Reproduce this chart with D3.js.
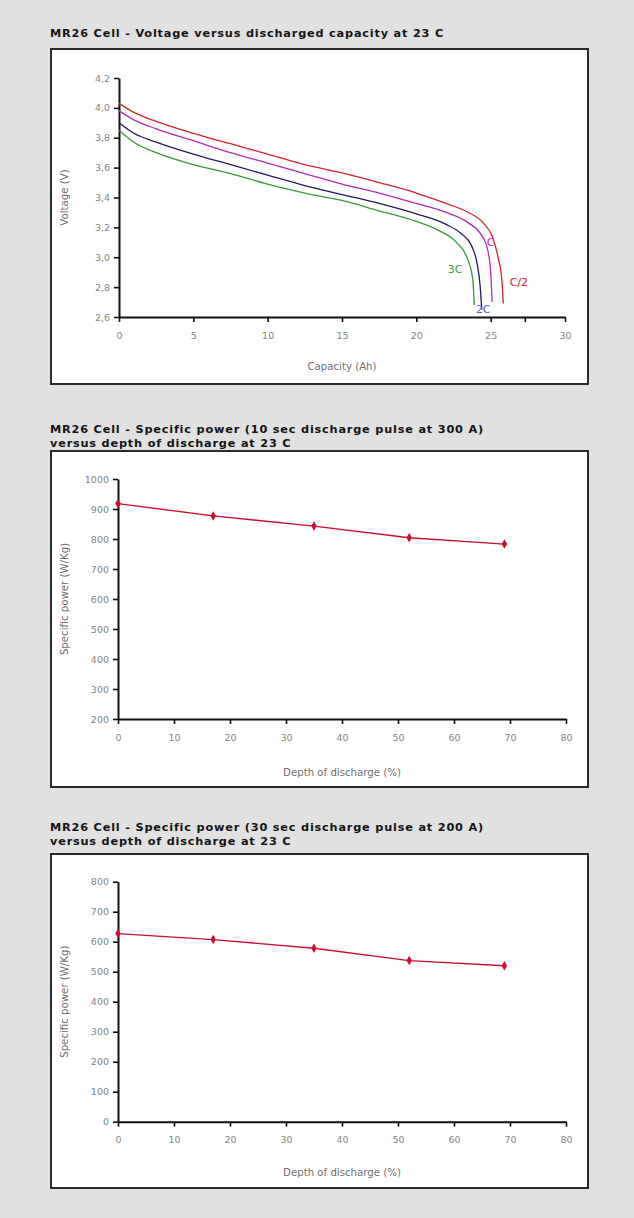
<!DOCTYPE html>
<html>
<head>
<meta charset="utf-8">
<script src="https://cdn.jsdelivr.net/npm/d3@7"></script>
<style>
  html, body { margin: 0; padding: 0; background: #e1e1e1; }
  svg { display: block; }
  .tick text { fill: #858585; font-family: "DejaVu Sans", sans-serif; font-size: 9.5px; }
  .axis-title { fill: #707070; font-family: "DejaVu Sans", sans-serif; font-size: 10.2px; }
  .panel-title { fill: #141414; font-family: "DejaVu Sans", sans-serif; font-size: 11.3px; font-weight: bold; letter-spacing: 0.8px; }
  .rate-label { font-family: "DejaVu Sans", sans-serif; font-size: 11px; }
</style>
</head>
<body>
<svg id="chart" width="634" height="1218"></svg>
<script>
// --- chart 1: voltage vs discharged capacity ---
const capacityTicks = [0, 5, 10, 15, 20, 25, 27.3, 30];
const voltageTicks = [2.6, 2.8, 3.0, 3.2, 3.4, 3.6, 3.8, 4.0, 4.2];

// [capacity Ah, voltage V]
const curveHalfC = [[0, 4.03], [1, 3.97], [2.5, 3.91], [5, 3.83], [7.5, 3.76], [10, 3.69], [12.5, 3.62], [15, 3.565], [17.5, 3.5], [20, 3.43], [22, 3.36], [23.5, 3.3], [24.5, 3.23], [25.1, 3.14], [25.5, 3.0], [25.75, 2.85], [25.85, 2.69]];
const curve1C = [[0, 3.98], [1, 3.92], [2.5, 3.86], [5, 3.78], [7.5, 3.7], [10, 3.63], [12.5, 3.56], [15, 3.49], [17.5, 3.43], [20, 3.36], [22, 3.3], [23.5, 3.23], [24.3, 3.16], [24.8, 3.05], [25.0, 2.9], [25.1, 2.7]];
const curve2C = [[0, 3.9], [1, 3.83], [2.5, 3.77], [5, 3.69], [7.5, 3.62], [10, 3.55], [12.5, 3.48], [15, 3.42], [17.5, 3.36], [20, 3.29], [22, 3.22], [23, 3.16], [23.7, 3.08], [24.1, 2.95], [24.3, 2.8], [24.4, 2.65]];
const curve3C = [[0, 3.85], [1, 3.77], [2.5, 3.7], [5, 3.62], [7.5, 3.56], [10, 3.49], [12.5, 3.43], [15, 3.38], [17.5, 3.31], [20, 3.24], [21.5, 3.18], [22.7, 3.1], [23.4, 3.0], [23.8, 2.85], [23.9, 2.68]];

// label text and anchor [capacity, voltage]
const rateLabels = [["C/2", 26.9, 2.83], ["C", 25.0, 3.1], ["2C", 24.5, 2.65], ["3C", 22.6, 2.92]];

// --- charts 2 and 3: specific power vs depth of discharge ---
const depthTicks = [0, 10, 20, 30, 40, 50, 60, 70, 80];
const power10sTicks = [200, 300, 400, 500, 600, 700, 800, 900, 1000];
const power30sTicks = [0, 100, 200, 300, 400, 500, 600, 700, 800];
const depthOfDischarge = [0, 17, 35, 52, 69];
const power10s300A = [918, 877, 843, 804, 783];
const power30s200A = [627, 607, 578, 537, 520];

const rateColors = { "C/2": "#d3202e", "C": "#b22cb0", "2C": "#1d1d5e", "3C": "#3a9a3e" };
const labelColors = { "C/2": "#d3202e", "C": "#b22cb0", "2C": "#5560b8", "3C": "#3a9a3e" };
const powerRed = "#c8102e";

const comma = d3.formatLocale({ decimal: ",", thousands: ".", grouping: [3], currency: ["", ""] });
const fmtVolt = comma.format(".1f");

const svg = d3.select("#chart");

function drawPanel(p) {
  const g = svg.append("g");
  p.title.forEach((line, i) => {
    g.append("text").attr("class", "panel-title")
      .attr("x", 50).attr("y", p.titleY + i * 13.5).text(line);
  });
  g.append("rect")
    .attr("x", 51).attr("y", p.boxTop)
    .attr("width", 537).attr("height", p.boxBottom - p.boxTop)
    .attr("fill", "#fff").attr("stroke", "#2a2a2a").attr("stroke-width", 2);

  const x = d3.scaleLinear().domain(p.xDomain).range(p.xRange);
  const y = d3.scaleLinear().domain(p.yDomain).range([p.plotBottom, p.plotTop]);

  const xAxis = g.append("g")
    .attr("transform", `translate(0,${p.plotBottom})`)
    .call(d3.axisBottom(x).tickValues(p.xTicks).tickSize(5).tickSizeOuter(0).tickPadding(10)
      .tickFormat(p.xFormat));
  const yAxis = g.append("g")
    .attr("transform", `translate(${p.xRange[0]},0)`)
    .call(d3.axisLeft(y).tickValues(p.yTicks).tickSize(5).tickSizeOuter(0).tickPadding(4)
      .tickFormat(p.yFormat));
  [xAxis, yAxis].forEach((a) => {
    a.select(".domain").attr("stroke", "#111").attr("stroke-width", 2);
    a.selectAll(".tick line").attr("stroke", "#111").attr("stroke-width", 1.6);
  });

  g.append("text").attr("class", "axis-title")
    .attr("x", (p.xRange[0] + p.xRange[1]) / 2).attr("y", p.xTitleY)
    .attr("text-anchor", "middle").text(p.xTitle);
  g.append("text").attr("class", "axis-title")
    .attr("transform", `translate(64,${(p.plotTop + p.plotBottom) / 2}) rotate(-90)`)
    .attr("text-anchor", "middle").attr("dominant-baseline", "central").text(p.yTitle);

  return { g, x, y };
}

// panel 1
const p1 = drawPanel({
  title: ["MR26 Cell - Voltage versus discharged capacity at 23 C"], titleY: 37,
  boxTop: 49, boxBottom: 384, plotTop: 78, plotBottom: 317,
  xDomain: [0, 30], xRange: [119, 565], yDomain: [2.6, 4.2],
  xTicks: capacityTicks, yTicks: voltageTicks,
  xFormat: (d) => (Number.isInteger(d) ? d : ""), yFormat: fmtVolt,
  xTitle: "Capacity (Ah)", xTitleY: 370, yTitle: "Voltage (V)"
});

const voltLine = d3.line().x((d) => p1.x(d[0])).y((d) => p1.y(d[1])).curve(d3.curveMonotoneX);
[["C/2", curveHalfC], ["C", curve1C], ["2C", curve2C], ["3C", curve3C]].forEach(([rate, data]) => {
  p1.g.append("path").datum(data)
    .attr("d", voltLine).attr("fill", "none")
    .attr("stroke", rateColors[rate]).attr("stroke-width", 1.3);
});
p1.g.selectAll(".rate-label").data(rateLabels).join("text")
  .attr("class", "rate-label")
  .attr("x", (d) => p1.x(d[1])).attr("y", (d) => p1.y(d[2]))
  .attr("text-anchor", "middle").attr("dominant-baseline", "central")
  .attr("fill", (d) => labelColors[d[0]]).text((d) => d[0]);

// panels 2 and 3
function drawPower(p, values) {
  const panel = drawPanel(p);
  const pts = depthOfDischarge.map((d, i) => [d, values[i]]);
  panel.g.append("path").datum(pts)
    .attr("d", d3.line().x((d) => panel.x(d[0])).y((d) => panel.y(d[1])))
    .attr("fill", "none").attr("stroke", powerRed).attr("stroke-width", 1.4);
  panel.g.selectAll(".pt").data(pts).join("path")
    .attr("class", "pt")
    .attr("transform", (d) => `translate(${panel.x(d[0])},${panel.y(d[1])})`)
    .attr("d", d3.symbol(d3.symbolDiamond, 26))
    .attr("fill", powerRed);
}

drawPower({
  title: ["MR26 Cell - Specific power (10 sec discharge pulse at 300 A)", "versus depth of discharge at 23 C"],
  titleY: 433, boxTop: 451, boxBottom: 787, plotTop: 479, plotBottom: 719,
  xDomain: [0, 80], xRange: [118, 566], yDomain: [200, 1000],
  xTicks: depthTicks, yTicks: power10sTicks, xFormat: d3.format("d"), yFormat: d3.format("d"),
  xTitle: "Depth of discharge (%)", xTitleY: 776, yTitle: "Specific power (W/Kg)"
}, power10s300A);

drawPower({
  title: ["MR26 Cell - Specific power (30 sec discharge pulse at 200 A)", "versus depth of discharge at 23 C"],
  titleY: 831, boxTop: 854, boxBottom: 1188, plotTop: 881.7, plotBottom: 1121.7,
  xDomain: [0, 80], xRange: [118, 566], yDomain: [0, 800],
  xTicks: depthTicks, yTicks: power30sTicks, xFormat: d3.format("d"), yFormat: d3.format("d"),
  xTitle: "Depth of discharge (%)", xTitleY: 1176, yTitle: "Specific power (W/Kg)"
}, power30s200A);
</script>
</body>
</html>
